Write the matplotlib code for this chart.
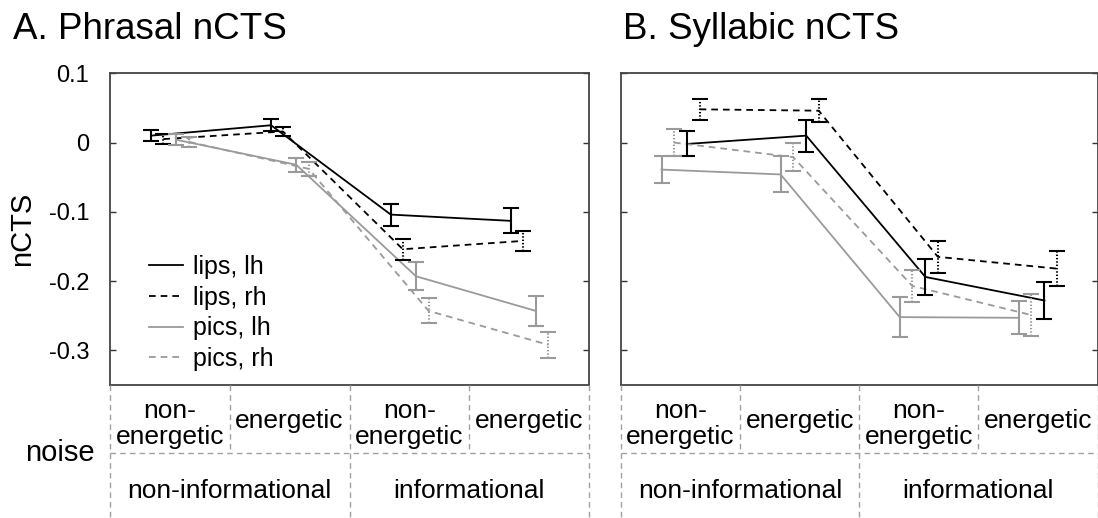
import matplotlib
matplotlib.use("Agg")
import matplotlib.pyplot as plt
from matplotlib.lines import Line2D
import numpy as np

plt.rcParams['font.family'] = ['Liberation Sans', 'DejaVu Sans']
plt.rcParams['axes.unicode_minus'] = False
plt.rcParams['lines.scale_dashes'] = False

# ---------------- data ----------------
groups = ["non-\nenergetic", "energetic", "non-\nenergetic", "energetic"]
info_labels = ["non-informational", "informational"]
series_names = ["lips, lh", "lips, rh", "pics, lh", "pics, rh"]
yticks = [0.1, 0, -0.1, -0.2, -0.3]
ytick_labels = ["0.1", "0", "-0.1", "-0.2", "-0.3"]

# Panel A: Phrasal nCTS
A_lips_lh = [0.010, 0.025, -0.104, -0.113]
A_lips_lh_err = [0.008, 0.009, 0.016, 0.018]
A_lips_rh = [0.005, 0.016, -0.154, -0.142]
A_lips_rh_err = [0.007, 0.007, 0.015, 0.015]
A_pics_lh = [0.004, -0.032, -0.193, -0.243]
A_pics_lh_err = [0.008, 0.010, 0.020, 0.022]
A_pics_rh = [0.001, -0.038, -0.243, -0.292]
A_pics_rh_err = [0.007, 0.010, 0.018, 0.019]

# Panel B: Syllabic nCTS
B_lips_lh = [-0.002, 0.010, -0.194, -0.228]
B_lips_lh_err = [0.018, 0.023, 0.026, 0.027]
B_lips_rh = [0.048, 0.046, -0.165, -0.182]
B_lips_rh_err = [0.015, 0.017, 0.023, 0.025]
B_pics_lh = [-0.039, -0.046, -0.252, -0.253]
B_pics_lh_err = [0.020, 0.026, 0.029, 0.024]
B_pics_rh = [0.000, -0.021, -0.207, -0.249]
B_pics_rh_err = [0.019, 0.020, 0.023, 0.030]

# ---------------- styles / layout ----------------
GRAY = '#9a9a9a'
DASH = (0, (4.8, 3.6))
DOT = (0, (1.0, 1.4))
styles = {
    "lips, lh": dict(color='black', ls='-', ebls='-'),
    "lips, rh": dict(color='black', ls=DASH, ebls=DOT),
    "pics, lh": dict(color=GRAY, ls='-', ebls='-'),
    "pics, rh": dict(color=GRAY, ls=DASH, ebls=DOT),
}
offsets_A = {"lips, lh": -0.155, "lips, rh": -0.055, "pics, lh": 0.055, "pics, rh": 0.16}
offsets_B = {"pics, lh": -0.16, "pics, rh": -0.055, "lips, lh": 0.055, "lips, rh": 0.16}

W, H = 1098, 518
fig = plt.figure(figsize=(W / 100, H / 100), dpi=100)


def fx(px):
    return px / W


def fy(py):
    return 1 - py / H


AX_TOP, AX_BOT = 73.3, 385
panels = [
    dict(left=110, right=589, title="A. Phrasal nCTS", tx=12.7, off=offsets_A,
         data={"lips, lh": (A_lips_lh, A_lips_lh_err), "lips, rh": (A_lips_rh, A_lips_rh_err),
               "pics, lh": (A_pics_lh, A_pics_lh_err), "pics, rh": (A_pics_rh, A_pics_rh_err)}),
    dict(left=621, right=1097.5, title="B. Syllabic nCTS", tx=622.7, off=offsets_B,
         data={"lips, lh": (B_lips_lh, B_lips_lh_err), "lips, rh": (B_lips_rh, B_lips_rh_err),
               "pics, lh": (B_pics_lh, B_pics_lh_err), "pics, rh": (B_pics_rh, B_pics_rh_err)}),
]

xc = np.arange(len(groups)) + 0.5

for i, p in enumerate(panels):
    ax = fig.add_axes([fx(p['left']), fy(AX_BOT), fx(p['right'] - p['left']), (AX_BOT - AX_TOP) / H])
    for name in series_names:
        vals, errs = p['data'][name]
        st = styles[name]
        x = xc + p['off'][name]
        ax.plot(x, vals, color=st['color'], ls=st['ls'], lw=1.3, zorder=3)
        eb = ax.errorbar(x, vals, yerr=errs, fmt='none', ecolor=st['color'], elinewidth=1.5,
                         capsize=6, capthick=1.5, zorder=4)
        for col in eb[2]:
            col.set_linestyle(st['ebls'])
    ax.set_xlim(0, 4)
    ax.set_ylim(-0.35, 0.1)
    ax.set_xticks([])
    ax.set_yticks(yticks)
    ax.tick_params(axis='y', direction='in', length=4, width=1, right=True, left=True,
                   labelsize=17, pad=15, colors='#333333', labelcolor='black')
    for s in ax.spines.values():
        s.set_color('#444444')
        s.set_linewidth(1.3)
    if i == 0:
        ax.set_yticklabels(ytick_labels)
        ax.set_ylabel("nCTS", fontsize=21, labelpad=9)
        handles = [Line2D([], [], color=styles[n]['color'], ls=styles[n]['ls'], lw=1.3) for n in series_names]
        ax.legend(handles, series_names, loc='lower left', bbox_to_anchor=(0.045, -0.012),
                  frameon=False, fontsize=18, handlelength=1.35, handletextpad=0.4,
                  labelspacing=0.27, borderpad=0.2)
    else:
        ax.set_yticklabels([])
    fig.text(fx(p['tx']), fy(39.3), p['title'], fontsize=26.5, va='baseline', ha='left')

    # table below the axes
    tab = fig.add_axes([fx(p['left']), 0, fx(p['right'] - p['left']), (H - AX_BOT) / H])
    tab.set_xlim(0, 4)
    tab.set_ylim(H, AX_BOT)
    tab.axis('off')
    lk = dict(color='#a0a0a0', lw=1.0, ls=(0, (4, 3)), clip_on=False)
    for xv in [0, 1, 2, 3, 4]:
        tab.plot([xv, xv], [AX_BOT, 453], **lk)
    for xv in [0, 2, 4]:
        tab.plot([xv, xv], [453, H + 5], **lk)
    tab.plot([0, 4], [453, 453], **lk)
    for j, g in enumerate(groups):
        if "\n" in g:
            tab.text(xc[j], 444, g, ha='center', va='baseline', fontsize=19, linespacing=1.12)
        else:
            tab.text(xc[j], 428, g, ha='center', va='baseline', fontsize=19)
    for j, lab in enumerate(info_labels):
        tab.text(1 + 2 * j, 498, lab, ha='center', va='baseline', fontsize=19)

fig.text(fx(95), fy(460.7), "noise", fontsize=21, ha='right', va='baseline')

fig.savefig("out.png", dpi=100)
